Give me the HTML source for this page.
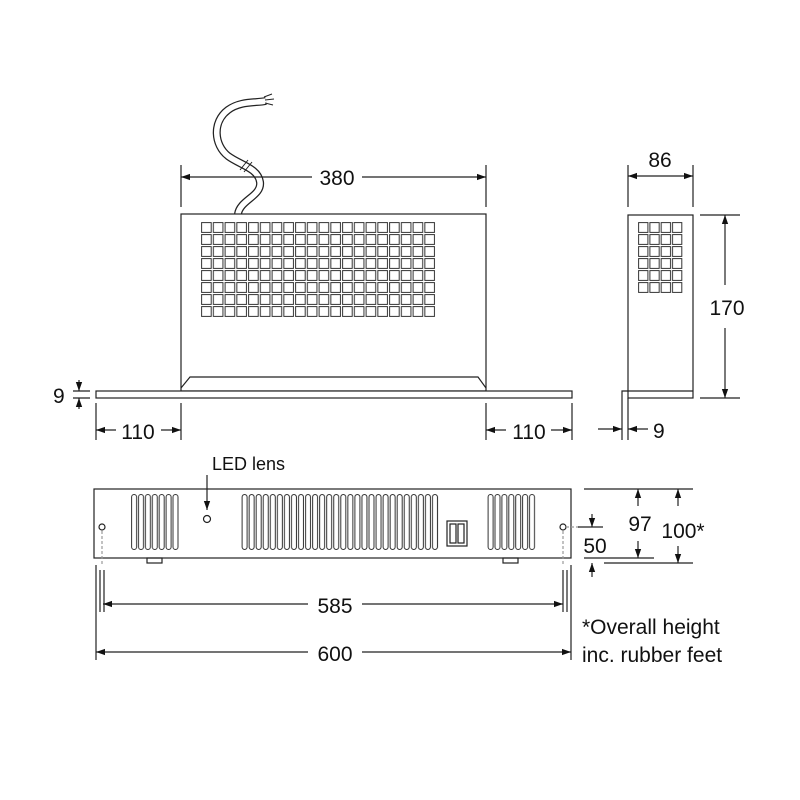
<!DOCTYPE html>
<html><head><meta charset="utf-8"><style>
html,body{margin:0;padding:0;background:#fff;}
svg{display:block;}
text{font-family:"Liberation Sans",sans-serif;fill:#111;}
</style></head><body>
<svg width="800" height="800" viewBox="0 0 800 800" xmlns="http://www.w3.org/2000/svg">
<defs>
<marker id="a" viewBox="0 0 10 10" refX="10" refY="5" markerWidth="9" markerHeight="9" orient="auto-start-reverse" markerUnits="userSpaceOnUse"><path d="M0,1.5 L10,5 L0,8.5 Z" fill="#111"/></marker>
<pattern id="sq" x="201" y="222" width="11.75" height="12" patternUnits="userSpaceOnUse"><rect x="0.6" y="0.6" width="9.6" height="9.8" fill="#fff" stroke="#333" stroke-width="1"/></pattern>
<pattern id="sq2" x="638" y="222" width="11.3" height="12" patternUnits="userSpaceOnUse"><rect x="0.6" y="0.6" width="9.3" height="9.8" fill="#fff" stroke="#333" stroke-width="1"/></pattern>
<pattern id="sl" x="241.5" y="494" width="7.05" height="56" patternUnits="userSpaceOnUse"><rect x="0.6" y="0.5" width="5" height="55" rx="2.5" fill="#fff" stroke="#333" stroke-width="1"/></pattern>
<pattern id="sl2" x="131" y="494" width="6.9" height="56" patternUnits="userSpaceOnUse"><rect x="0.6" y="0.5" width="5" height="55" rx="2.5" fill="#fff" stroke="#333" stroke-width="1"/></pattern>
<pattern id="sl3" x="487.5" y="494" width="6.9" height="56" patternUnits="userSpaceOnUse"><rect x="0.6" y="0.5" width="5" height="55" rx="2.5" fill="#fff" stroke="#333" stroke-width="1"/></pattern>
</defs>
<g stroke="#222" fill="none" stroke-width="1.2">
<path d="M238,214 C240,200 262,196 260,182 C258,168 240,165 228,156 C214,145 212,122 228,110 C240,101 255,103 266,101" stroke="#222" stroke-width="8" stroke-linecap="butt"/>
<path d="M238,214 C240,200 262,196 260,182 C258,168 240,165 228,156 C214,145 212,122 228,110 C240,101 255,103 266,101" stroke="#fff" stroke-width="5.5"/>
<path d="M264,97 l8,-3 M265,100 l9,-1 M265,103 l8,2" stroke-width="1"/>
<path d="M240,170 l8,-10 M244,172 l8,-10" stroke-width="1"/>
<rect x="181" y="214" width="305" height="177" fill="#fff"/>
<rect x="201" y="222" width="235" height="96" fill="url(#sq)" stroke="none"/>
<path d="M181,388 L190,377 L478,377 L486,388"/>
<rect x="96" y="391" width="476" height="7" fill="#fff"/>
<path d="M181,165 V207 M486,165 V207"/>
<line x1="181" y1="177" x2="312" y2="177" marker-start="url(#a)"/>
<line x1="362" y1="177" x2="486" y2="177" marker-end="url(#a)"/>
<path d="M73,391 H90 M73,398 H90"/>
<line x1="79" y1="380" x2="79" y2="391" marker-end="url(#a)"/>
<line x1="79" y1="409" x2="79" y2="398" marker-end="url(#a)"/>
<path d="M96,403 V440 M181,403 V440 M486,403 V440 M572,403 V440"/>
<line x1="96" y1="430" x2="116" y2="430" marker-start="url(#a)"/>
<line x1="161" y1="430" x2="181" y2="430" marker-end="url(#a)"/>
<line x1="486" y1="430" x2="506" y2="430" marker-start="url(#a)"/>
<line x1="551" y1="430" x2="572" y2="430" marker-end="url(#a)"/>
<rect x="628" y="215" width="65" height="183" fill="#fff"/>
<rect x="638" y="222" width="45" height="72" fill="url(#sq2)" stroke="none"/>
<path d="M622,398 V391 H693 M622,391 V440 M628,398 V440"/>
<path d="M628,165 V207 M693,165 V207"/>
<line x1="628" y1="176" x2="693" y2="176" marker-start="url(#a)" marker-end="url(#a)"/>
<path d="M700,215 H740 M700,398 H740"/>
<line x1="725" y1="215" x2="725" y2="285" marker-start="url(#a)"/>
<line x1="725" y1="328" x2="725" y2="398" marker-end="url(#a)"/>
<line x1="598" y1="429" x2="622" y2="429" marker-end="url(#a)"/>
<line x1="648" y1="429" x2="628" y2="429" marker-end="url(#a)"/>
<rect x="94" y="489" width="477" height="69" fill="#fff"/>
<rect x="131" y="494" width="48" height="56" fill="url(#sl2)" stroke="none"/>
<rect x="241.5" y="494" width="197.5" height="56" fill="url(#sl)" stroke="none"/>
<rect x="487.5" y="494" width="48" height="56" fill="url(#sl3)" stroke="none"/>
<rect x="447" y="521" width="20" height="25"/>
<rect x="450" y="524" width="6" height="19"/>
<rect x="458" y="524" width="6" height="19"/>
<circle cx="207" cy="519" r="3.5"/>
<circle cx="102" cy="527" r="3"/>
<circle cx="563" cy="527" r="3"/>
<rect x="147" y="558" width="15" height="5"/>
<rect x="503" y="558" width="15" height="5"/>
<line x1="207" y1="475" x2="207" y2="510" marker-end="url(#a)"/>
<path d="M102,531 V565 M563,531 V565 M566,527 H580" stroke="#999" stroke-dasharray="3,2"/>
<path d="M96,565 V660 M571,565 V660 M100,570 V612 M104,570 V612 M563,570 V612 M567,570 V612"/>
<line x1="103" y1="604" x2="308" y2="604" marker-start="url(#a)"/>
<line x1="362" y1="604" x2="563" y2="604" marker-end="url(#a)"/>
<line x1="96" y1="652" x2="308" y2="652" marker-start="url(#a)"/>
<line x1="362" y1="652" x2="571" y2="652" marker-end="url(#a)"/>
<path d="M584,489 H693 M584,558 H654 M604,563 H693 M578,527 H603"/>
<line x1="638" y1="506" x2="638" y2="489" marker-end="url(#a)"/>
<line x1="638" y1="541" x2="638" y2="558" marker-end="url(#a)"/>
<line x1="678" y1="506" x2="678" y2="489" marker-end="url(#a)"/>
<line x1="678" y1="546" x2="678" y2="563" marker-end="url(#a)"/>
<line x1="592" y1="514" x2="592" y2="527" marker-end="url(#a)"/>
<line x1="592" y1="577" x2="592" y2="563" marker-end="url(#a)"/>
</g>
<g font-size="21">
<text x="337" y="185" text-anchor="middle">380</text>
<text x="660" y="167" text-anchor="middle">86</text>
<text x="727" y="315" text-anchor="middle">170</text>
<text x="53" y="403">9</text>
<text x="138" y="439" text-anchor="middle">110</text>
<text x="529" y="439" text-anchor="middle">110</text>
<text x="653" y="438">9</text>
<text x="212" y="470" font-size="18">LED lens</text>
<text x="640" y="531" text-anchor="middle">97</text>
<text x="683" y="538" text-anchor="middle">100*</text>
<text x="595" y="553" text-anchor="middle">50</text>
<text x="335" y="613" text-anchor="middle">585</text>
<text x="335" y="661" text-anchor="middle">600</text>
<text x="582" y="634">*Overall height</text>
<text x="582" y="662">inc. rubber feet</text>
</g>
</svg>
</body></html>
